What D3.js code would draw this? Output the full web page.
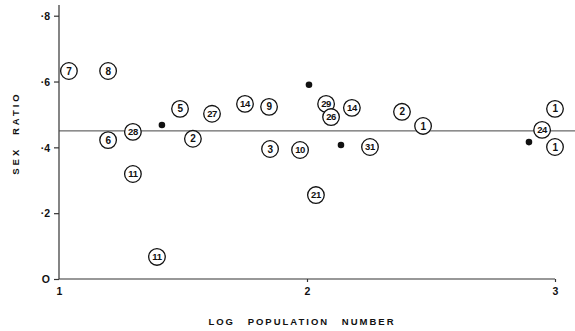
<!DOCTYPE html>
<html><head><meta charset="utf-8">
<script src="https://cdn.jsdelivr.net/npm/d3@7"></script>
<style>body{margin:0;background:#fff}svg text{font-family:"Liberation Sans",Arial,sans-serif;font-weight:bold;fill:#111}</style>
</head><body><svg id="c" width="575" height="331"></svg>
<script>
const xTicks = [1, 2, 3];
const xTickLabels = ["1", "2", "3"];
const yTicks = [0, 0.2, 0.4, 0.6, 0.8];
const yTickLabels = ["O", "·2", "·4", "·6", "·8"];
const meanRatio = 0.45;
// labelled populations (circled numbers)
const logPop = [1.04, 1.198, 1.198, 1.298, 1.298, 1.395, 1.488, 1.540, 1.617, 1.75, 1.847, 1.851, 1.972, 2.077, 2.097, 2.036, 2.181, 2.254, 2.383, 2.468, 2.948, 3.0, 3.0];
const sexRatio = [0.632, 0.632, 0.422, 0.447, 0.319, 0.067, 0.517, 0.426, 0.502, 0.532, 0.523, 0.395, 0.392, 0.532, 0.492, 0.255, 0.520, 0.401, 0.508, 0.465, 0.453, 0.517, 0.401];
const labels = ["7", "8", "6", "28", "11", "11", "5", "2", "27", "14", "9", "3", "10", "29", "26", "21", "14", "31", "2", "1", "24", "1", "1"];
// unlabelled populations (solid dots)
const dotLogPop = [1.415, 2.008, 2.137, 2.895];
const dotSexRatio = [0.468, 0.590, 0.407, 0.416];

const svg = d3.select("#c");
const x = d3.scaleLinear().domain([1, 3]).range([59, 555]);
const y = d3.scaleLinear().domain([0, 0.8]).range([279, 15.7]);

// axes
svg.append("line").attr("x1", 59).attr("x2", 59).attr("y1", 5).attr("y2", 279).attr("stroke", "#333").attr("stroke-width", 1.2);
svg.append("line").attr("x1", 59).attr("x2", 555).attr("y1", 279).attr("y2", 279).attr("stroke", "#333").attr("stroke-width", 1.2);

const yAxis = d3.axisLeft(y).tickValues(yTicks).tickSize(5).tickFormat((d, i) => yTickLabels[i]);
const gy = svg.append("g").attr("transform", "translate(59,0)").call(yAxis);
gy.select(".domain").remove();
gy.selectAll("line").attr("stroke", "#333").attr("stroke-width", 1.2);
gy.selectAll("text").attr("font-size", 10.5).attr("x", -9).attr("dy", "0.35em");

const xAxis = d3.axisBottom(x).tickValues(xTicks).tickSize(3).tickFormat((d, i) => xTickLabels[i]);
const gx = svg.append("g").attr("transform", "translate(0,279)").call(xAxis);
gx.select(".domain").remove();
gx.selectAll("line").attr("stroke", "#333").attr("stroke-width", 1.2).filter(d => d === 1).remove();
gx.selectAll("text").attr("font-size", 10.5).attr("y", 9);

// mean line
svg.append("line").attr("x1", 59).attr("x2", 575).attr("y1", y(meanRatio)).attr("y2", y(meanRatio)).attr("stroke", "#444").attr("stroke-width", 1);

// axis titles
svg.append("text").attr("x", 302).attr("y", 325).attr("text-anchor", "middle").attr("font-size", 9.5).attr("letter-spacing", 2).attr("word-spacing", 8).text("LOG POPULATION NUMBER");
svg.append("text").attr("transform", "translate(19,133) rotate(-90)").attr("text-anchor", "middle").attr("font-size", 9.5).attr("letter-spacing", 3).attr("word-spacing", 6).text("SEX RATIO");

// dots
svg.selectAll("circle.dot").data(dotLogPop).join("circle").attr("class", "dot")
  .attr("cx", d => x(d)).attr("cy", (d, i) => y(dotSexRatio[i])).attr("r", 3.3).attr("fill", "#111");

// circled labels
const g = svg.selectAll("g.pt").data(logPop).join("g").attr("class", "pt")
  .attr("transform", (d, i) => `translate(${x(d)},${y(sexRatio[i])})`);
g.append("circle").attr("r", 8.3).attr("fill", "#fff").attr("stroke", "#111").attr("stroke-width", 1.3);
g.append("text").attr("text-anchor", "middle").attr("dy", "0.36em").attr("font-size", (d, i) => labels[i].length > 1 ? 9.5 : 10).attr("letter-spacing", -0.4).text((d, i) => labels[i]);
</script></body></html>
